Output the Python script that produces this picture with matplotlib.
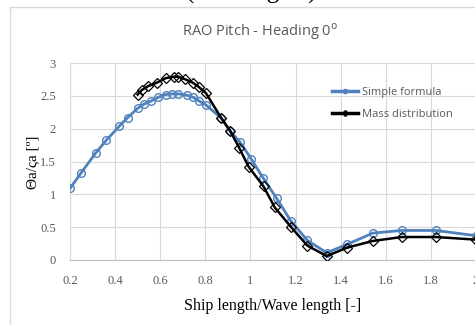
import matplotlib.pyplot as plt
from matplotlib.patches import Rectangle
from matplotlib.lines import Line2D

# Simple formula (blue, circles)
x_simple = [0.2, 0.25, 0.314, 0.36, 0.419, 0.456, 0.5, 0.526, 0.559, 0.592, 0.625,
            0.652, 0.681, 0.718, 0.745, 0.773, 0.803, 0.871, 0.911, 0.955, 1.003,
            1.056, 1.116, 1.178, 1.252, 1.338, 1.43, 1.543, 1.671, 1.822, 2.0]
y_simple = [1.09, 1.33, 1.63, 1.82, 2.04, 2.17, 2.31, 2.37, 2.42, 2.48, 2.52,
            2.53, 2.53, 2.51, 2.48, 2.42, 2.36, 2.16, 1.96, 1.79, 1.54,
            1.25, 0.94, 0.60, 0.30, 0.11, 0.24, 0.41, 0.45, 0.45, 0.37]

# Mass distribution (black, diamonds)
x_mass = [0.5, 0.519, 0.548, 0.585, 0.625, 0.659, 0.681, 0.712, 0.745, 0.773,
          0.803, 0.871, 0.911, 0.950, 0.992, 1.058, 1.108, 1.178, 1.252, 1.338,
          1.43, 1.543, 1.671, 1.822, 2.0]
y_mass = [2.52, 2.59, 2.65, 2.70, 2.77, 2.79, 2.79, 2.75, 2.70, 2.63,
          2.54, 2.16, 1.96, 1.71, 1.42, 1.12, 0.80, 0.51, 0.22, 0.06,
          0.19, 0.29, 0.35, 0.35, 0.31]

x_ticks = [0.2, 0.4, 0.6, 0.8, 1.0, 1.2, 1.4, 1.6, 1.8, 2.0]
x_tick_labels = ['0.2', '0.4', '0.6', '0.8', '1', '1.2', '1.4', '1.6', '1.8', '2']
y_ticks = [0, 0.5, 1, 1.5, 2, 2.5, 3]
y_tick_labels = ['0', '0.5', '1', '1.5', '2', '2.5', '3']

blue = '#4f81bd'
grid_c = '#d9d9d9'
txt_c = '#595959'

fig = plt.figure(figsize=(4.75, 3.25), dpi=100)
fig.patch.set_facecolor('white')

# chart frame (cut off at right/bottom)
fig.patches.append(Rectangle((10 / 475, -0.1), 1.2, 1 - 7 / 325 + 0.1,
                             transform=fig.transFigure, fill=False,
                             edgecolor='#d9d9d9', linewidth=1.0))

# caption cut off at the top
fig.text(0.53, 1.022, '(Heading 0°)', ha='center', va='center', fontsize=18,
         family='Liberation Serif', color='black')

ax = fig.add_axes([70 / 475, 1 - 260 / 325, 406 / 475, 197 / 325])
ax.set_xlim(0.2, 2.0)
ax.set_ylim(0, 3)

ax.plot(x_simple, y_simple, color=blue, linewidth=2, marker='o', markersize=5.5,
        markerfacecolor='none', markeredgecolor=blue, markeredgewidth=1.0,
        zorder=3)
ax.plot(x_mass, y_mass, color='black', linewidth=1.8, marker='D', markersize=5,
        markerfacecolor='none', markeredgecolor='black', markeredgewidth=0.9,
        zorder=4)

ax.set_xticks(x_ticks)
ax.set_xticklabels(x_tick_labels)
ax.set_yticks(y_ticks)
ax.set_yticklabels(y_tick_labels)
ax.tick_params(axis='x', length=0, labelsize=9, colors=txt_c, pad=11)
ax.tick_params(axis='y', length=0, labelsize=9, colors=txt_c, pad=10)
for lab in ax.get_xticklabels() + ax.get_yticklabels():
    lab.set_family('Liberation Serif')
    lab.set_color(txt_c)

ax.grid(True, color=grid_c, linewidth=0.8)
ax.set_axisbelow(True)
for s in ['top', 'right']:
    ax.spines[s].set_visible(False)
ax.spines['left'].set_color(grid_c)
ax.spines['bottom'].set_color('#bfbfbf')

fig.text(260 / 475, 1 - 32 / 325, 'RAO Pitch - Heading 0$^{\\mathrm{o}}$',
         ha='center', va='center', fontsize=10.5, family='Open Sans', color=txt_c)

ax.set_xlabel('Ship length/Wave length [-]', family='Liberation Serif',
              fontsize=11.5, color='black', labelpad=8)
fig.text(33 / 475, 1 - 162 / 325, 'Θa/ςa [º]', rotation=90, ha='center',
         va='center', fontsize=11, family='Liberation Serif', color='black')

handles = [Line2D([], [], color=blue, linewidth=2.5, marker='o', markersize=3,
                  markerfacecolor='none', markeredgecolor=blue),
           Line2D([], [], color='black', linewidth=2.5, marker='D', markersize=3,
                  markerfacecolor='none', markeredgecolor='black')]
leg = ax.legend(handles, ['Simple formula', 'Mass distribution'],
                loc='upper left', bbox_to_anchor=(0.62, 0.93), frameon=False,
                handlelength=2.4, handletextpad=0.3, labelspacing=1.0,
                prop={'family': 'Open Sans', 'size': 8})
for t in leg.get_texts():
    t.set_color(txt_c)

fig.savefig('out.png', dpi=100)
